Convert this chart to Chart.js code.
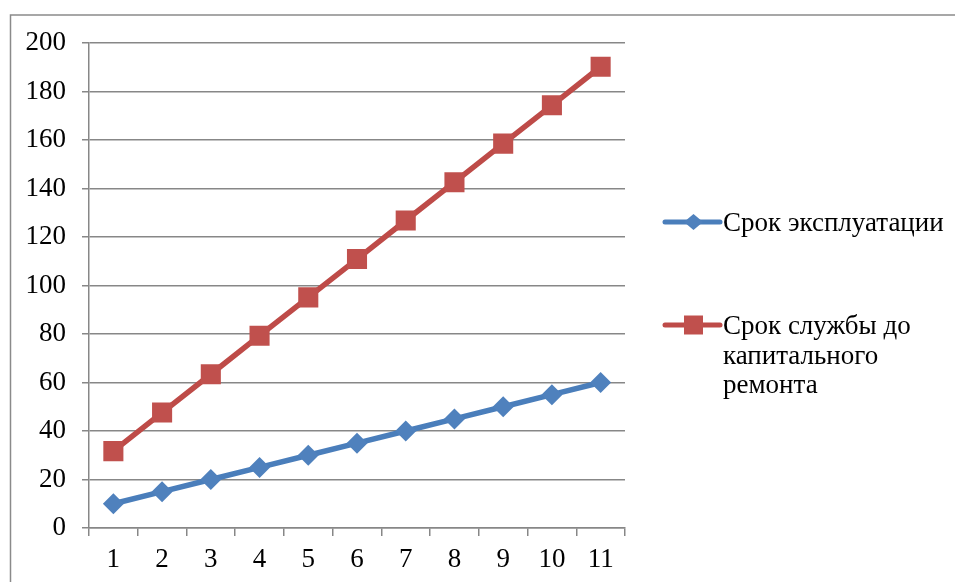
<!DOCTYPE html>
<html>
<head>
<meta charset="utf-8">
<script src="https://cdn.jsdelivr.net/npm/chart.js@4"></script>
<style>
  html, body { margin: 0; padding: 0; background: #fff; }
  #wrap { width: 955px; height: 582px; position: relative; }
</style>
</head>
<body>
<div id="wrap"><canvas id="c"></canvas></div>
<script>
// Category labels along the x axis
const categories = ['1', '2', '3', '4', '5', '6', '7', '8', '9', '10', '11'];

// Service life already used
const operationYears = [10, 15, 20, 25, 30, 35, 40, 45, 50, 55, 60];

// Service life until major overhaul
const overhaulYears = [31.7, 47.6, 63.4, 79.3, 95.1, 110.9, 126.8, 142.6, 158.5, 174.3, 190.2];

// Legend captions, one entry per line of text
const seriesNames = [
  ['Срок эксплуатации'],
  ['Срок службы до', 'капитального', 'ремонта']
];

const FONT = '"Liberation Serif", "Times New Roman", serif';
const FONT_SIZE = 27;
const GRID = '#878787';
const BLUE = '#4A7EBB';
const RED = '#BE4B48';

Chart.defaults.font.family = FONT;
Chart.defaults.font.size = FONT_SIZE;
Chart.defaults.color = '#000';

// Outer frame around the whole chart object
const framePlugin = {
  id: 'frame',
  beforeDraw(chart) {
    const ctx = chart.ctx;
    ctx.save();
    ctx.strokeStyle = '#8a8a8a';
    ctx.lineWidth = 1.5;
    ctx.strokeRect(10.5, 15, 1200, 1200);
    ctx.restore();
  }
};

// Legend at the right, with multi-line captions
const sideLegend = {
  id: 'sideLegend',
  afterDraw(chart) {
    const ctx = chart.ctx;
    const x0 = 665, x1 = 720, tx = 723;
    const rows = [222, 325];
    const lineGap = 29.5;
    ctx.save();
    chart.data.datasets.forEach((ds, i) => {
      const y = rows[i];
      ctx.strokeStyle = ds.borderColor;
      ctx.lineWidth = 5;
      ctx.lineCap = 'round';
      ctx.beginPath();
      ctx.moveTo(x0, y);
      ctx.lineTo(x1, y);
      ctx.stroke();
      ctx.fillStyle = ds.pointBackgroundColor;
      ctx.beginPath();
      const cx = (x0 + x1) / 2 + 1;
      if (ds.pointStyle === 'rect') {
        ctx.rect(cx - 9.5, y - 9.5, 19, 19);
      } else {
        ctx.moveTo(cx - 9.5, y);
        ctx.lineTo(cx, y - 8);
        ctx.lineTo(cx + 9.5, y);
        ctx.lineTo(cx, y + 8);
        ctx.closePath();
      }
      ctx.fill();
      ctx.fillStyle = '#000';
      ctx.font = FONT_SIZE + 'px ' + FONT;
      ctx.textBaseline = 'middle';
      ctx.textAlign = 'left';
      seriesNames[i].forEach((line, k) => {
        ctx.fillText(line, tx, y + 2 + k * lineGap);
      });
    });
    ctx.restore();
  }
};

new Chart(document.getElementById('c'), {
  type: 'line',
  data: {
    labels: categories,
    datasets: [
      {
        label: seriesNames[0].join(' '),
        data: operationYears,
        borderColor: BLUE,
        backgroundColor: BLUE,
        pointBackgroundColor: '#4F81BD',
        pointBorderColor: '#4F81BD',
        borderWidth: 5.5,
        pointStyle: 'rectRot',
        pointRadius: 10.5,
        pointHoverRadius: 10.5,
        pointBorderWidth: 0,
        tension: 0
      },
      {
        label: seriesNames[1].join(' '),
        data: overhaulYears,
        borderColor: RED,
        backgroundColor: RED,
        pointBackgroundColor: '#C0504D',
        pointBorderColor: '#C0504D',
        borderWidth: 5.5,
        pointStyle: 'rect',
        pointRadius: 14.2,
        pointHoverRadius: 14.2,
        pointBorderWidth: 0,
        tension: 0
      }
    ]
  },
  options: {
    responsive: true,
    maintainAspectRatio: false,
    animation: false,
    layout: { padding: { left: 0, top: 43, right: 330, bottom: 0 } },
    plugins: {
      legend: { display: false },
      tooltip: { enabled: false }
    },
    scales: {
      x: {
        offset: true,
        grid: {
          offset: true,
          drawOnChartArea: false,
          drawTicks: true,
          tickLength: 8,
          color: GRID,
          lineWidth: 1.5
        },
        border: { display: true, color: GRID, width: 1.5 },
        ticks: {
          color: '#000',
          padding: 8,
          font: { family: FONT, size: FONT_SIZE },
          maxRotation: 0,
          autoSkip: false
        },
        afterFit(scale) { scale.height = 54; }
      },
      y: {
        min: 0,
        max: 200,
        ticks: {
          stepSize: 20,
          color: '#000',
          padding: 16,
          font: { family: FONT, size: FONT_SIZE }
        },
        grid: {
          color: GRID,
          lineWidth: 1.5,
          drawTicks: true,
          tickLength: 7
        },
        border: { display: true, color: GRID, width: 1.5 },
        afterFit(scale) { scale.width = 89; }
      }
    }
  },
  plugins: [framePlugin, sideLegend]
});
</script>
</body>
</html>
